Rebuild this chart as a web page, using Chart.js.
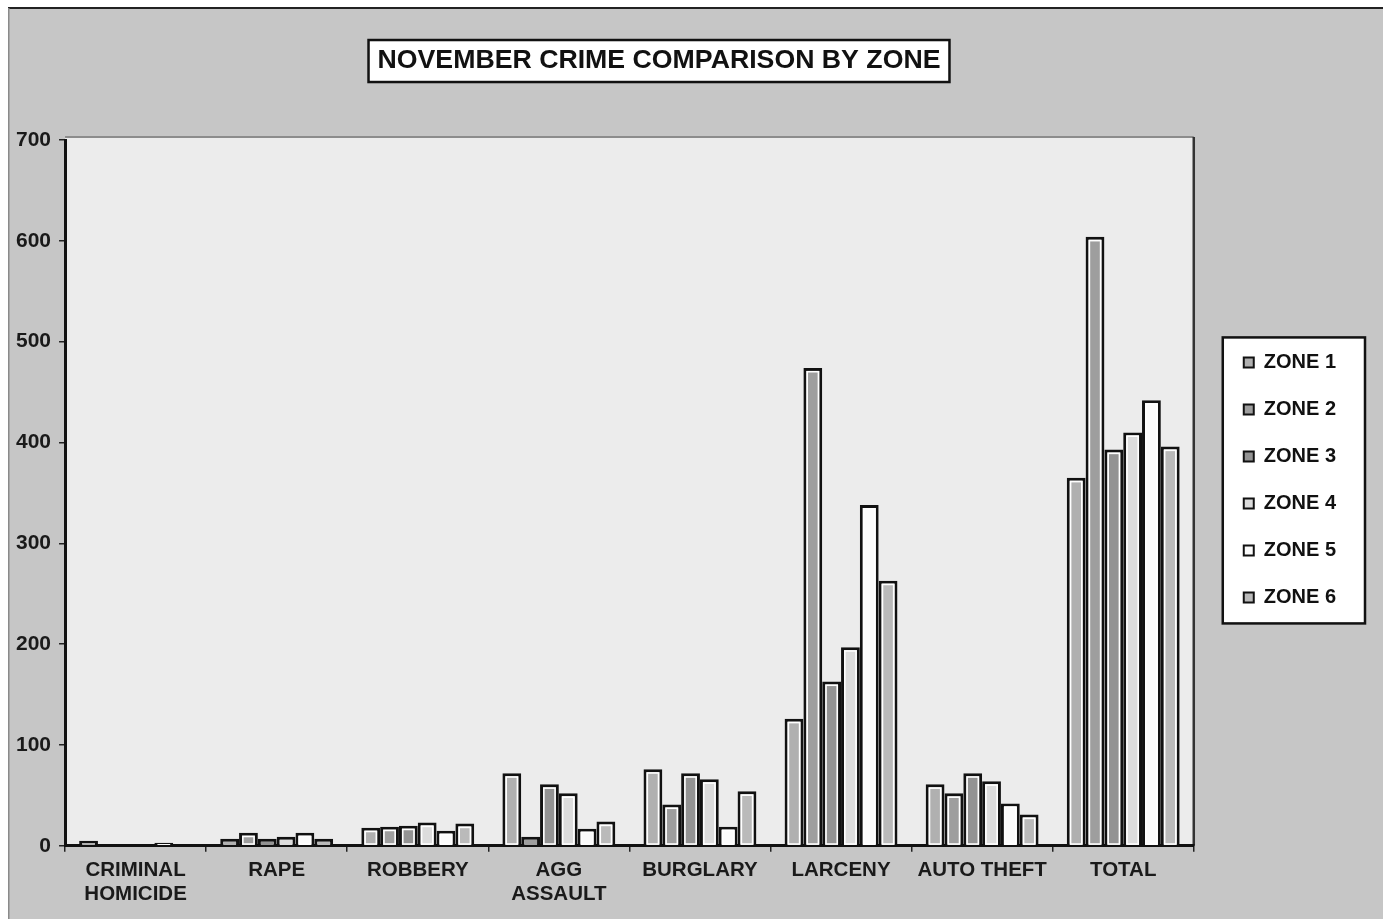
<!DOCTYPE html>
<html>
<head>
<meta charset="utf-8">
<script src="https://cdn.jsdelivr.net/npm/chart.js@4.4.1/dist/chart.umd.min.js"></script>
<style>
  html, body { margin: 0; padding: 0; background: #ffffff; }
  #wrap { position: relative; width: 1383px; height: 919px; }
  canvas { display: block; }
</style>
</head>
<body>
<div id="wrap"><canvas id="c" width="1383" height="919"></canvas></div>
<script>
// ---- data ----
const categories = [
  ["CRIMINAL", "HOMICIDE"], "RAPE", "ROBBERY", ["AGG", "ASSAULT"],
  "BURGLARY", "LARCENY", "AUTO THEFT", "TOTAL"
];
const seriesNames = ["ZONE 1", "ZONE 2", "ZONE 3", "ZONE 4", "ZONE 5", "ZONE 6"];
const zone1 = [5, 7, 18, 72, 76, 126, 61, 365];
const zone2 = [1, 13, 19, 9, 41, 474, 52, 604];
const zone3 = [1, 7, 20, 61, 72, 163, 72, 393];
const zone4 = [1, 9, 23, 52, 66, 197, 64, 410];
const zone5 = [3, 13, 15, 17, 19, 338, 42, 442];
const zone6 = [1, 7, 22, 24, 54, 263, 31, 396];
const yTicks = [0, 100, 200, 300, 400, 500, 600, 700];
const chartTitle = "NOVEMBER CRIME COMPARISON BY ZONE";

const seriesValues = [zone1, zone2, zone3, zone4, zone5, zone6];
const fills = ["#b0b0b0", "#9e9e9e", "#939393", "#dcdcdc", "#fbfbfb", "#bababa"];

const FONT = "'Liberation Sans', Arial, sans-serif";
const TITLE_SIZE = 26.7;

const decor = {
  id: 'decor',
  afterLayout(chart) {
    const tb = chart.titleBlock;
    if (tb) {
      const hw = (tb.right - tb.left) / 2;
      const cx = 659;
      tb.left = cx - hw; tb.right = cx + hw;
    }
    const lg = chart.legend;
    if (lg) { lg.top -= 13; lg.bottom -= 13; }
  },
  beforeDraw(chart) {
    const ctx = chart.ctx;
    const W = chart.width, H = chart.height;
    const ca = chart.chartArea;
    ctx.save();
    // outer page
    ctx.fillStyle = '#ffffff';
    ctx.fillRect(0, 0, W, H);
    ctx.fillStyle = '#c6c6c6';
    ctx.fillRect(8, 8, W - 8, H - 8);
    ctx.fillStyle = '#222';
    ctx.fillRect(8, 7, W - 8, 2);
    ctx.fillStyle = '#8a8a8a';
    ctx.fillRect(8, 8, 1.5, H - 8);
    // plot area
    ctx.fillStyle = '#ececec';
    ctx.fillRect(ca.left, ca.top - 3, ca.right - ca.left, ca.bottom - ca.top + 3);
    ctx.strokeStyle = '#8c8c8c';
    ctx.lineWidth = 2;
    ctx.beginPath();
    ctx.moveTo(ca.left, ca.top - 3);
    ctx.lineTo(ca.right, ca.top - 3);
    ctx.stroke();
    ctx.strokeStyle = '#333';
    ctx.lineWidth = 2.5;
    ctx.beginPath();
    ctx.moveTo(ca.right, ca.top - 3);
    ctx.lineTo(ca.right, ca.bottom);
    ctx.stroke();
    // title box
    const tb = chart.titleBlock;
    if (tb) {
      ctx.font = 'bold ' + TITLE_SIZE + 'px ' + FONT;
      const tw = ctx.measureText(chartTitle).width;
      const cx = (tb.left + tb.right) / 2;
      const cy = tb.top + tb.options.padding.top + TITLE_SIZE * 0.6;
      const bw = tw + 18, bh = 42;
      ctx.fillStyle = '#ffffff';
      ctx.fillRect(cx - bw / 2, cy - bh / 2, bw, bh);
      ctx.strokeStyle = '#111';
      ctx.lineWidth = 2.5;
      ctx.strokeRect(cx - bw / 2, cy - bh / 2, bw, bh);
    }
    // legend box
    const lg = chart.legend;
    if (lg && lg.legendHitBoxes && lg.legendHitBoxes.length) {
      const hb = lg.legendHitBoxes;
      const first = hb[0], last = hb[hb.length - 1];
      let maxRight = 0;
      hb.forEach(h => { maxRight = Math.max(maxRight, h.left + h.width); });
      const x0 = first.left - 21, y0 = first.top - 15;
      const x1 = maxRight + 29, y1 = last.top + last.height + 16;
      ctx.fillStyle = '#ffffff';
      ctx.fillRect(x0, y0, x1 - x0, y1 - y0);
      ctx.strokeStyle = '#111';
      ctx.lineWidth = 2.5;
      ctx.strokeRect(x0, y0, x1 - x0, y1 - y0);
    }
    ctx.restore();
  },
  afterDatasetsDraw(chart) {
    // inner white outline of each bar (scanned Excel style)
    const ctx = chart.ctx;
    ctx.save();
    ctx.strokeStyle = '#ffffff';
    ctx.lineWidth = 1.6;
    chart.data.datasets.forEach((ds, i) => {
      const meta = chart.getDatasetMeta(i);
      meta.data.forEach(bar => {
        const p = bar.getProps(['x', 'y', 'base', 'width'], true);
        const h = p.base - p.y;
        if (h < 9) return;
        const l = p.x - p.width / 2 + 3.8, r = p.x + p.width / 2 - 3.8;
        const t = p.y + 3.8, b = p.base - 1;
        ctx.strokeRect(l, t, r - l, b - t);
      });
    });
    ctx.restore();
  }
};

const datasets = seriesNames.map((name, i) => ({
  label: name,
  data: seriesValues[i],
  backgroundColor: fills[i],
  borderColor: '#111111',
  borderWidth: 3,
  borderSkipped: 'bottom',
  yAxisID: 'y'
}));

new Chart(document.getElementById('c'), {
  type: 'bar',
  data: { labels: categories, datasets },
  plugins: [decor],
  options: {
    responsive: false,
    animation: false,
    devicePixelRatio: 1,
    layout: { padding: { left: 8, right: 37, top: 0, bottom: 6 } },
    datasets: { bar: { categoryPercentage: 0.8, barPercentage: 1.0 } },
    plugins: {
      title: {
        display: true,
        text: chartTitle,
        color: '#111',
        font: { family: FONT, size: TITLE_SIZE, weight: 'bold' },
        padding: { top: 45, bottom: 63 }
      },
      legend: {
        display: true,
        position: 'right',
        fullSize: false,
        align: 'center',
        labels: {
          color: '#111',
          font: { family: FONT, size: 20, weight: 'bold' },
          boxWidth: 10,
          boxHeight: 10,
          padding: 27,
          generateLabels(chart) {
            const items = Chart.defaults.plugins.legend.labels.generateLabels(chart);
            return items.map(it => Object.assign(it, { lineWidth: 2, strokeStyle: '#111' }));
          }
        }
      },
      tooltip: { enabled: false }
    },
    scales: {
      x: {
        grid: { display: true, drawOnChartArea: false, offset: true, color: '#222', lineWidth: 1.5, tickLength: 6 },
        border: { display: true, color: '#111', width: 3 },
        ticks: { color: '#1a1a1a', font: { family: FONT, size: 20.5, weight: 'bold' }, padding: 6, maxRotation: 0, autoSkip: false }
      },
      y: {
        min: 0,
        max: 700,
        afterBuildTicks(scale) { scale.ticks = yTicks.map(v => ({ value: v })); },
        grid: { display: true, drawOnChartArea: false, color: '#222', lineWidth: 1.5, tickLength: 6 },
        border: { display: true, color: '#111', width: 3 },
        ticks: { color: '#1a1a1a', font: { family: FONT, size: 21, weight: 'bold' }, padding: 8 }
      },
      gap: {
        position: 'right',
        display: true,
        grid: { display: false },
        border: { display: false },
        ticks: { display: false },
        afterFit(scale) { scale.width = 23; }
      }
    }
  }
});
</script>
</body>
</html>
